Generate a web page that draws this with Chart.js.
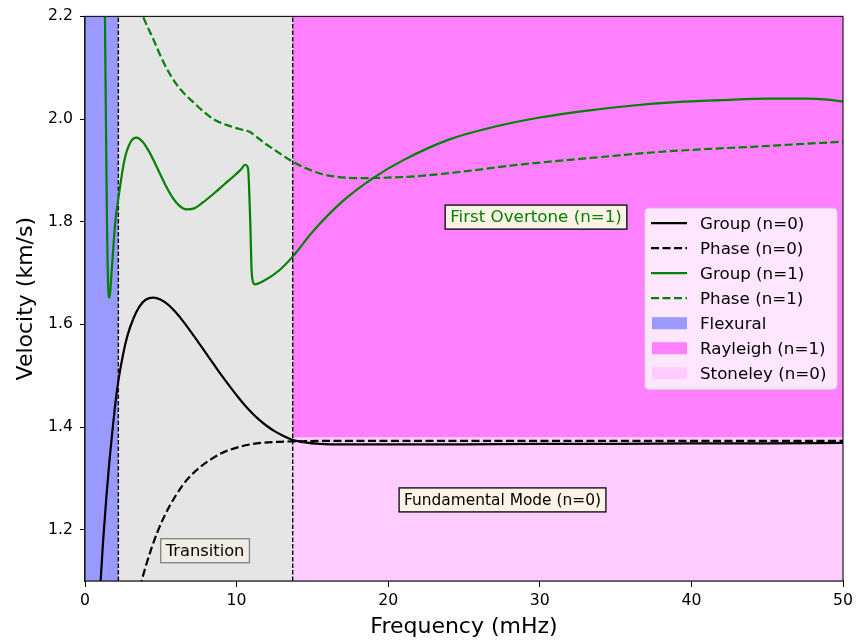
<!DOCTYPE html>
<html>
<head>
<meta charset="utf-8">
<title>Dispersion curves</title>
<script src="https://cdn.jsdelivr.net/npm/chart.js@4.4.0/dist/chart.umd.min.js"></script>
<style>
  html, body { margin: 0; padding: 0; background: #ffffff; }
  #wrap { width: 860px; height: 641px; }
</style>
</head>
<body>
<div id="wrap"><canvas id="dispersionChart" width="860" height="641"></canvas></div>
<script>
// Frequency in mHz, velocity in km/s
const group0Freq = [1.0, 1.03, 1.2, 1.4, 1.6, 1.8, 2.0, 2.2, 2.5, 2.8, 3.2, 3.6, 4.0, 4.5, 5.0, 5.5, 6.0, 6.5, 7.0, 7.5, 8.0, 8.5, 9.0, 9.5, 10.0, 10.5, 11.0, 11.5, 12.0, 12.5, 13.0, 13.7, 14.5, 15.5, 17, 20, 25, 30, 35, 40, 45, 50];
const group0Vel  = [1.085, 1.1, 1.18, 1.26, 1.33, 1.39, 1.445, 1.49, 1.54, 1.578, 1.612, 1.635, 1.648, 1.652, 1.648, 1.638, 1.623, 1.605, 1.585, 1.564, 1.543, 1.522, 1.501, 1.481, 1.462, 1.444, 1.428, 1.414, 1.402, 1.392, 1.384, 1.375, 1.37, 1.367, 1.366, 1.366, 1.366, 1.367, 1.367, 1.368, 1.368, 1.369];

const phase0Freq = [3.6, 3.73, 4.0, 4.4, 4.8, 5.2, 5.6, 6.0, 6.5, 7.0, 7.6, 8.3, 9.0, 9.8, 10.7, 11.6, 12.6, 13.7, 16, 20, 30, 40, 50];
const phase0Vel  = [1.087, 1.1, 1.128, 1.165, 1.197, 1.224, 1.247, 1.267, 1.289, 1.306, 1.322, 1.337, 1.349, 1.358, 1.365, 1.369, 1.371, 1.372, 1.373, 1.373, 1.373, 1.373, 1.373];

const group1Freq = [1.3, 1.38, 1.45, 1.55, 1.62, 1.75, 2.0, 2.2, 2.6, 3.0, 3.4, 3.8, 4.2, 4.6, 5.0, 5.4, 5.8, 6.2, 6.7, 7.2, 7.8, 8.5, 9.2, 9.9, 10.3, 10.55, 10.75, 10.9, 11.0, 11.2, 11.8, 12.8, 13.7, 15, 17, 19, 21, 24, 27, 30, 33, 36, 39, 42, 45, 47.5, 49, 50];
const group1Vel  = [2.25, 2.0, 1.8, 1.66, 1.652, 1.7, 1.8, 1.845, 1.92, 1.955, 1.964, 1.956, 1.938, 1.915, 1.89, 1.866, 1.846, 1.832, 1.824, 1.826, 1.838, 1.855, 1.873, 1.891, 1.902, 1.911, 1.905, 1.8, 1.7, 1.678, 1.685, 1.705, 1.732, 1.78, 1.84, 1.885, 1.92, 1.96, 1.985, 2.003, 2.016, 2.026, 2.033, 2.037, 2.04, 2.04, 2.038, 2.034];

const phase1Freq = [3.3, 3.85, 4.5, 5.17, 6.0, 6.6, 7.14, 7.8, 8.46, 9.1, 9.8, 10.4, 10.88, 11.3, 11.8, 12.4, 13.0, 13.7, 14.5, 15.5, 16.5, 18, 20, 22, 25, 28, 31, 34, 37, 40, 44, 47, 50];
const phase1Vel  = [2.24, 2.198, 2.156, 2.111, 2.069, 2.048, 2.033, 2.015, 2.0, 1.991, 1.984, 1.979, 1.975, 1.966, 1.954, 1.942, 1.93, 1.917, 1.905, 1.894, 1.888, 1.885, 1.886, 1.889, 1.898, 1.909, 1.918, 1.926, 1.934, 1.94, 1.946, 1.951, 1.956];

// Wave-type bands (frequency limits) and the Rayleigh / Stoneley split
const flexuralBand = [0, 2.2];
const transitionBand = [2.2, 13.7];
const surfaceBand = [13.7, 50];
const stoneleyTop = 1.38;
const velRange = [1.1, 2.2];

const xTicks = [0, 10, 20, 30, 40, 50];
const yTicks = [1.2, 1.4, 1.6, 1.8, 2.0, 2.2];

const FONT = "'DejaVu Sans', sans-serif";

const toPoints = (xs, ys) => xs.map((x, i) => ({ x: x, y: ys[i] }));
const flat = (band, y) => [{ x: band[0], y: y }, { x: band[1], y: y }];
const vline = x => [{ x: x, y: velRange[0] }, { x: x, y: velRange[1] }];

function curve(label, xs, ys, color, dashed) {
    return {
        label: label,
        data: toPoints(xs, ys),
        borderColor: color,
        backgroundColor: color,
        borderWidth: 2.2,
        borderDash: dashed ? [8, 3.5] : [],
        pointRadius: 0,
        fill: false,
        cubicInterpolationMode: 'monotone',
        order: 1,
        inLegend: true
    };
}

function band(label, data, color, fill, showInLegend) {
    return {
        label: label,
        data: data,
        borderWidth: 0,
        borderColor: 'rgba(0,0,0,0)',
        backgroundColor: color,
        pointRadius: 0,
        fill: fill,
        order: 10,
        inLegend: showInLegend,
        isPatch: true
    };
}

function divider(x) {
    return {
        label: 'divider',
        data: vline(x),
        borderColor: '#000000',
        borderWidth: 1.4,
        borderDash: [4.5, 2],
        pointRadius: 0,
        fill: false,
        order: 5,
        inLegend: false
    };
}

// Text boxes placed in data coordinates
const notes = [
    { text: 'First Overtone (n=1)', x: 29.75, y: 1.809, size: 16.7, color: '#008000', bg: '#fbf4e6', edge: '#000000' },
    { text: 'Fundamental Mode (n=0)', x: 27.54, y: 1.258, size: 15.4, color: '#000000', bg: '#fbf4e6', edge: '#000000' },
    { text: 'Transition', x: 7.92, y: 1.159, size: 16.3, color: '#000000', bg: '#f1ece6', edge: '#808080' }
];

const notesPlugin = {
    id: 'notes',
    afterDatasetsDraw(chart) {
        const ctx = chart.ctx;
        const xs = chart.scales.x, ys = chart.scales.y;
        ctx.save();
        ctx.textAlign = 'center';
        ctx.textBaseline = 'middle';
        notes.forEach(n => {
            ctx.font = n.size + 'px ' + FONT;
            const cx = xs.getPixelForValue(n.x);
            const cy = ys.getPixelForValue(n.y);
            const w = ctx.measureText(n.text).width + 10;
            const h = 24;
            ctx.fillStyle = n.bg;
            ctx.fillRect(cx - w / 2, cy - h / 2, w, h);
            ctx.strokeStyle = n.edge;
            ctx.lineWidth = 1.3;
            ctx.strokeRect(cx - w / 2, cy - h / 2, w, h);
            ctx.fillStyle = n.color;
            ctx.fillText(n.text, cx, cy + 1);
        });
        ctx.restore();
    }
};

const framePlugin = {
    id: 'frame',
    afterDraw(chart) {
        const ctx = chart.ctx;
        const a = chart.chartArea;
        ctx.save();
        ctx.strokeStyle = '#1a1a1a';
        ctx.lineWidth = 1.2;
        ctx.strokeRect(a.left, a.top, a.right - a.left, a.bottom - a.top);

        // legend box, centred on the right side of the plot
        const items = chart.data.datasets.filter(d => d.inLegend);
        const rowH = 25;
        const boxW = 192;
        const boxH = items.length * rowH + 6;
        const left = a.right - 6 - boxW;
        const top = (a.top + a.bottom) / 2 - boxH / 2;
        const r = 4;
        ctx.beginPath();
        ctx.moveTo(left + r, top);
        ctx.arcTo(left + boxW, top, left + boxW, top + boxH, r);
        ctx.arcTo(left + boxW, top + boxH, left, top + boxH, r);
        ctx.arcTo(left, top + boxH, left, top, r);
        ctx.arcTo(left, top, left + boxW, top, r);
        ctx.closePath();
        ctx.fillStyle = 'rgba(255,255,255,0.8)';
        ctx.fill();
        ctx.strokeStyle = '#d6d6d6';
        ctx.lineWidth = 1;
        ctx.stroke();

        ctx.font = '16.7px ' + FONT;
        ctx.textAlign = 'left';
        ctx.textBaseline = 'middle';
        items.forEach((d, i) => {
            const cy = top + 15 + i * rowH;
            if (d.isPatch) {
                ctx.fillStyle = d.backgroundColor;
                ctx.fillRect(left + 7, cy - 6, 35, 12);
            } else {
                ctx.beginPath();
                ctx.setLineDash(d.borderDash);
                ctx.strokeStyle = d.borderColor;
                ctx.lineWidth = d.borderWidth;
                ctx.moveTo(left + 6, cy);
                ctx.lineTo(left + 42, cy);
                ctx.stroke();
                ctx.setLineDash([]);
            }
            ctx.fillStyle = '#000000';
            ctx.fillText(d.label, left + 55, cy + 1);
        });
        ctx.restore();
    }
};

const ctx = document.getElementById('dispersionChart').getContext('2d');
const dispersionChart = new Chart(ctx, {
    type: 'line',
    data: {
        datasets: [
            curve('Group (n=0)', group0Freq, group0Vel, '#000000', false),
            curve('Phase (n=0)', phase0Freq, phase0Vel, '#000000', true),
            curve('Group (n=1)', group1Freq, group1Vel, '#008000', false),
            curve('Phase (n=1)', phase1Freq, phase1Vel, '#008000', true),
            divider(flexuralBand[1]),
            divider(transitionBand[1]),
            band('Flexural', flat(flexuralBand, velRange[1]), '#9999ff', 'start', true),
            band('Rayleigh (n=1)', flat(surfaceBand, velRange[1]), '#ff80ff', { value: stoneleyTop }, true),
            band('Stoneley (n=0)', flat(surfaceBand, stoneleyTop), '#ffccff', 'start', true),
            band('Transition', flat(transitionBand, velRange[1]), '#e5e5e5', 'start', false)
        ]
    },
    options: {
        responsive: false,
        animation: false,
        devicePixelRatio: 1,
        layout: {
            padding: { top: 14, right: 17, left: 0, bottom: 0 }
        },
        plugins: {
            legend: { display: false },
            tooltip: { enabled: false }
        },
        scales: {
            x: {
                type: 'linear',
                min: 0,
                max: 50,
                afterFit: scale => { scale.height = 60; },
                afterBuildTicks: scale => { scale.ticks = xTicks.map(v => ({ value: v })); },
                ticks: {
                    color: '#000000',
                    padding: 5,
                    maxRotation: 0,
                    font: { family: FONT, size: 15.7 },
                    callback: value => String(value)
                },
                grid: { drawOnChartArea: false, drawTicks: true, tickLength: 6, color: '#000000' },
                border: { display: true, color: '#1a1a1a', width: 1.2 },
                title: {
                    display: true,
                    text: 'Frequency (mHz)',
                    color: '#000000',
                    font: { family: FONT, size: 22 },
                    padding: { top: 0, bottom: 1 }
                }
            },
            y: {
                type: 'linear',
                min: velRange[0],
                max: velRange[1],
                afterFit: scale => { scale.width = 85; },
                afterBuildTicks: scale => { scale.ticks = yTicks.map(v => ({ value: v })); },
                ticks: {
                    color: '#000000',
                    padding: 7,
                    font: { family: FONT, size: 15.7 },
                    callback: value => value.toFixed(1)
                },
                grid: { drawOnChartArea: false, drawTicks: true, tickLength: 5, color: '#000000' },
                border: { display: true, color: '#1a1a1a', width: 1.2 },
                title: {
                    display: true,
                    text: 'Velocity (km/s)',
                    color: '#000000',
                    font: { family: FONT, size: 22 },
                    padding: { top: 13, bottom: 0 }
                }
            }
        }
    },
    plugins: [notesPlugin, framePlugin]
});
</script>
</body>
</html>
